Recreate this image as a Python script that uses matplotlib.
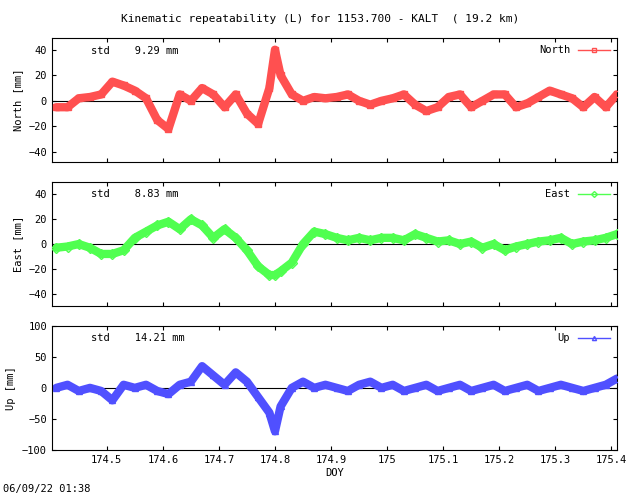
import numpy as np
import matplotlib
matplotlib.use("Agg")
import matplotlib.pyplot as plt

plt.rcParams["font.family"] = "DejaVu Sans Mono"
plt.rcParams["font.size"] = 7.5

# --- Datos (cada 0.02 dia) ---
doy = [174.41, 174.43, 174.45, 174.47, 174.49, 174.51, 174.53, 174.55, 174.57, 174.59,
       174.61, 174.63, 174.65, 174.67, 174.69, 174.71, 174.73, 174.75, 174.77, 174.79,
       174.80, 174.81, 174.83, 174.85, 174.87, 174.89, 174.91, 174.93, 174.95, 174.97,
       174.99, 175.01, 175.03, 175.05, 175.07, 175.09, 175.11, 175.13, 175.15, 175.17,
       175.19, 175.21, 175.23, 175.25, 175.27, 175.29, 175.31, 175.33, 175.35, 175.37,
       175.39, 175.41]
north = [-5, -5, 2, 3, 5, 15, 12, 8, 2, -15, -22, 5, 0, 10, 5, -5, 5, -10, -18, 10,
         40, 20, 5, 0, 3, 2, 3, 5, 0, -3, 0, 2, 5, -3, -8, -5, 3, 5, -5, 0,
         5, 5, -5, -2, 3, 8, 5, 2, -5, 3, -5, 5]
east = [-3, -2, 0, -3, -8, -8, -5, 5, 10, 15, 18, 12, 20, 15, 5, 12, 5, -5, -18, -25,
        -25, -22, -15, 0, 10, 8, 5, 3, 5, 3, 5, 5, 3, 8, 5, 2, 3, 0, 2, -3,
        0, -5, -2, 0, 2, 3, 5, 0, 2, 3, 5, 8]
up = [0, 5, -5, 0, -5, -20, 5, 0, 5, -5, -10, 5, 10, 35, 20, 5, 25, 10, -15, -40,
      -70, -30, 0, 10, 0, 5, 0, -5, 5, 10, 0, 5, -5, 0, 5, -5, 0, 5, -5, 0,
      5, -5, 0, 5, -5, 0, 5, 0, -5, 0, 5, 15]

paneles = [
    ("North", north, "#ff5050", "s", "9.29", (-48, 49), [-40, -20, 0, 20, 40], 0.673),
    ("East", east, "#50ff50", "D", "8.83", (-50, 50), [-40, -20, 0, 20, 40], 0.383),
    ("Up", up, "#5050ff", "^", "14.21", (-100, 100), [-100, -50, 0, 50, 100], 0.093),
]

fig = plt.figure(figsize=(6.4, 4.96), dpi=100)
xticks = [174.5, 174.6, 174.7, 174.8, 174.9, 175, 175.1, 175.2, 175.3, 175.4]

for nombre, y, c, m, std, ylim, yt, bottom in paneles:
    ax = fig.add_axes([0.081, bottom, 0.883, 0.25])
    ax.axhline(0, color="black", lw=0.8, zorder=1)
    ax.plot(doy, y, color=c, lw=6, solid_capstyle="round", zorder=2)
    ax.plot(doy, y, color=c, marker=m, ms=5, mfc="none", mec=c, lw=0, zorder=3)
    ax.set_xlim(174.402, 175.41)
    ax.set_ylim(*ylim)
    ax.set_yticks(yt)
    ax.set_xticks(xticks)
    ax.set_xticklabels(["174.5", "174.6", "174.7", "174.8", "174.9", "175",
                        "175.1", "175.2", "175.3", "175.4"] if nombre == "Up" else [])
    ax.tick_params(direction="in", top=True, right=True, length=3)
    ax.set_ylabel(nombre + " [mm]")
    ax.text(0.07, 0.9, "std    " + std + " mm", transform=ax.transAxes, va="center")
    h = plt.Line2D([], [], color=c, marker=m, mfc="none", ms=3, lw=1)
    ax.legend([h], [nombre], loc="upper right", frameon=False, markerfirst=False,
              handlelength=3, borderaxespad=0.3)
    if nombre == "Up":
        ax.set_xlabel("DOY", labelpad=2)

fig.text(0.5, 0.955, "Kinematic repeatability (L) for 1153.700 - KALT  ( 19.2 km)",
         ha="center", fontsize=8)
fig.text(0.005, 0.008, "06/09/22 01:38")
fig.savefig("out.png", dpi=100)
